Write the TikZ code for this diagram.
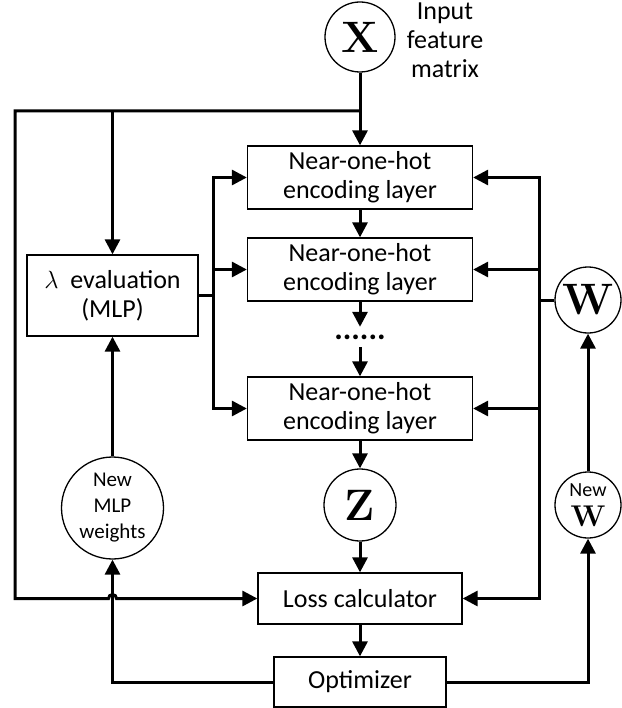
\documentclass[tikz,border=0pt]{standalone}
\usepackage[no-math]{fontspec}
\setmainfont{Carlito}
\newfontfamily\varfont{Latin Modern Roman}
\usetikzlibrary{arrows.meta}

\begin{document}
\begin{tikzpicture}[x=1pt,y=-1pt,
  box/.style={draw, line width=1.3pt, inner sep=0pt, align=center,
    font=\fontsize{26}{29}\selectfont},
  var/.style={draw, circle, line width=1.3pt, inner sep=0pt, align=center},
  bigvar/.style={var, font=\varfont\bfseries\fontsize{44}{44}\selectfont},
  flow/.style={line width=3pt},
  arr/.style={flow, -{Triangle[length=15pt,width=15pt]}},
]
\useasboundingbox (0,0) rectangle (621,708);

% variables
\node[bigvar, minimum size=70pt] (X) at (360,37) {X};
\node[font=\fontsize{26}{29}\selectfont, align=center] (inp) at (445,40) {Input\\feature\\matrix};

% encoding stack
\node[box, minimum width=225pt, minimum height=63pt] (enc1) at (360,177.5) {Near-one-hot\\encoding layer};
\node[box, minimum width=225pt, minimum height=63pt] (enc2) at (360,269.5) {Near-one-hot\\encoding layer};
\node[inner sep=0pt, minimum height=20pt, font=\fontsize{32}{32}\selectfont\bfseries] (dots) at (360,337) {......};
\node[box, minimum width=225pt, minimum height=63pt] (enc3) at (360,408.5) {Near-one-hot\\encoding layer};
\node[bigvar, minimum size=72pt] (Z) at (360,505) {Z};
\node[box, minimum width=204pt, minimum height=51pt] (loss) at (360,598.5) {Loss calculator};
\node[box, minimum width=172pt, minimum height=50pt] (opt) at (360,682) {Optimizer};

% lambda branch
\node[box, minimum width=171pt, minimum height=81pt] (lam) at (112.5,295.5) {$\lambda$\ \ evaluation\\(MLP)};
\node[var, minimum size=102pt, font=\fontsize{21}{26}\selectfont] (mlp) at (112.5,508) {New\\MLP\\weights};

% weight branch
\node[bigvar, minimum size=66pt] (W) at (588,300) {W};
\node[var, minimum size=66pt, font=\fontsize{20}{24}\selectfont] (NW) at (588,505) {New\\[6pt]{\varfont\bfseries\fontsize{30}{30}\selectfont W}};

% junctions
\coordinate (tl) at (15,111);
\coordinate (tr) at (X.south |- tl);
\coordinate (tm) at (lam.north |- tl);
\coordinate (lb) at (213,295.5);
\coordinate (rb) at (539,300);
\coordinate (hop) at (mlp.south |- loss.west);

% input distribution
\draw[arr] (X) -- (enc1);
\draw[arr] (tm) -- (lam);
\draw[arr] (tr) -- (tl) -- (tl |- loss.west) -- ([xshift=-4pt]hop)
  arc[start angle=180, end angle=0, radius=4pt] -- (loss.west);

% main chain
\draw[arr] (enc1) -- (enc2);
\draw[arr] (enc2) -- (dots);
\draw[arr] (dots) -- (enc3);
\draw[arr] (enc3) -- (Z);
\draw[arr] (Z) -- (loss);
\draw[arr] (loss) -- (opt);

% lambda bus
\draw[flow] (lam.east) -- (lb);
\draw[arr] (lb) |- (enc1.west);
\draw[arr] (lb) |- (enc2.west);
\draw[arr] (lb) |- (enc3.west);

% weight bus
\draw[flow] (W) -- (rb);
\draw[arr] (rb) |- (enc1.east);
\draw[arr] (rb) |- (enc2.east);
\draw[arr] (rb) |- (enc3.east);
\draw[arr] (rb) |- (loss.east);

% updates
\draw[arr] (opt.east) -| (NW.south);
\draw[arr] (NW) -- (W);
\draw[arr] (opt.west) -| (mlp.south);
\draw[arr] (mlp) -- (lam);
\end{tikzpicture}
\end{document}
